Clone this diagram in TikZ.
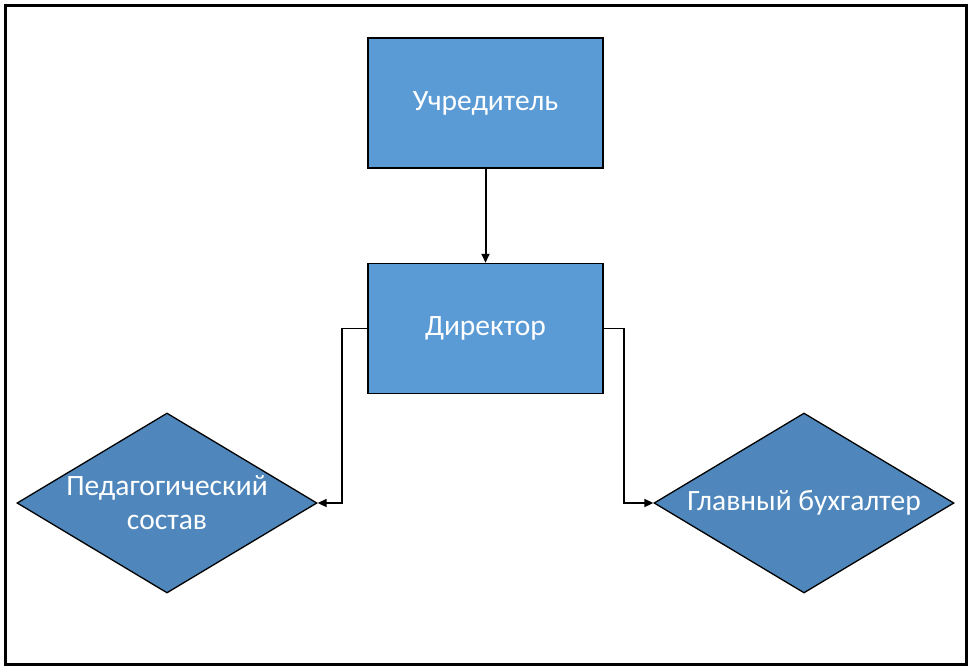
\documentclass[tikz,border=0pt]{standalone}
\usepackage{fontspec}
\setmainfont{Carlito}
\usetikzlibrary{shapes.geometric,arrows.meta}
\definecolor{boxblue}{HTML}{5B9BD5}
\definecolor{rombblue}{HTML}{4F87BC}
\tikzset{
  box/.style={draw=black,line width=1.5pt,fill=boxblue,text=white,
    minimum width=235pt,minimum height=130pt,inner sep=0pt,
    font=\fontsize{29.5}{34}\selectfont},
  romb/.style={diamond,draw=black,line width=1.3pt,fill=rombblue,text=white,
    minimum width=300pt,minimum height=180pt,inner sep=-10pt,aspect=1.67,
    align=center,font=\fontsize{29.5}{34}\selectfont},
  link/.style={line width=1.6pt,-{Triangle[length=9pt,width=8pt]}}
}
\begin{document}
\begin{tikzpicture}[x=1pt,y=-1pt]
  \useasboundingbox (0,0) rectangle (972,670);
  \draw[line width=3pt] (5,5) rectangle (966,664);
  % boxes
  \node[box] (founder) at (485.5,103) {Учредитель};
  \node[box] (director) at (485.5,328.5) {Директор};
  \node[romb] (staff) at (167,503) {Педагогический\\состав};
  \node[romb] (accountant) at (804,503) {Главный бухгалтер};
  % links
  \draw[link,line width=2pt] (founder) -- (director);
  \draw[link] (director.west) -- ++(-25,0) |- (staff.east);
  \draw[link] (director.east) -- ++(20,0) |- (accountant.west);
\end{tikzpicture}
\end{document}
